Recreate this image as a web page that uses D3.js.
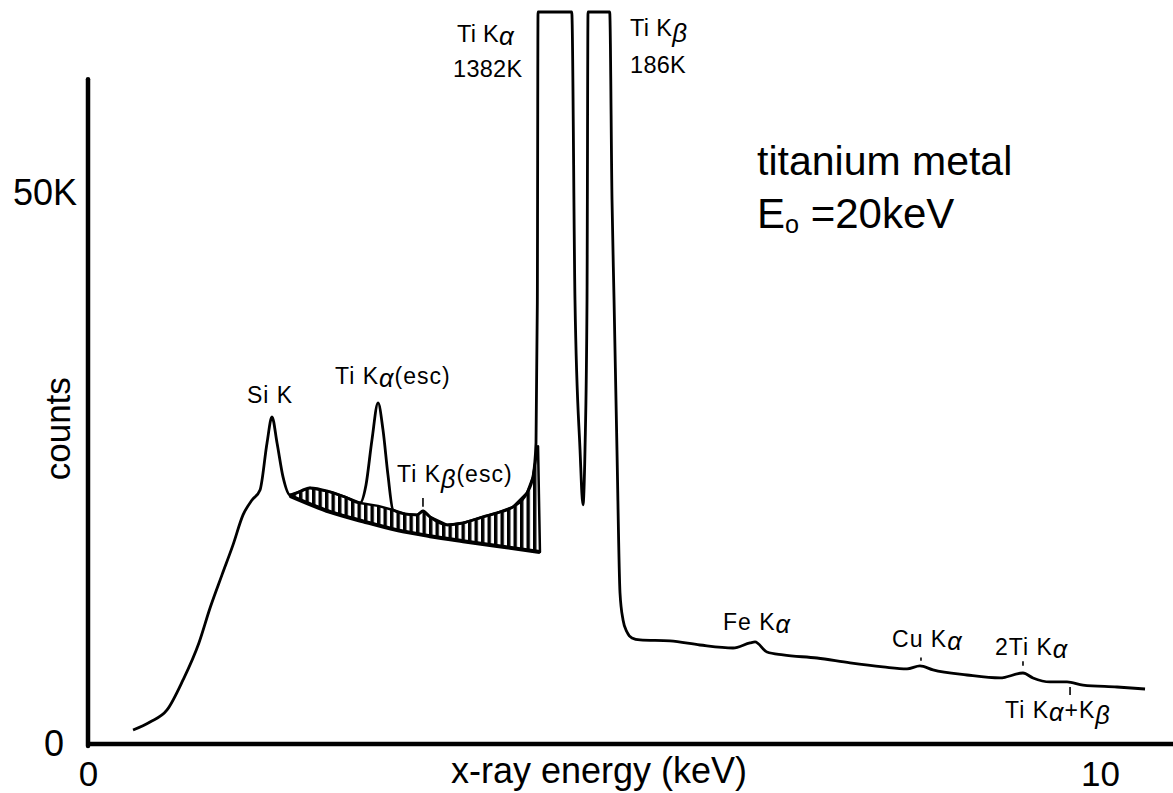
<!DOCTYPE html>
<meta charset="utf-8">
<style>
body { margin: 0; background: #fff; }
text { font-family: "Liberation Sans", Arial, Helvetica, sans-serif; fill: #000; }
</style>

<svg width="1173" height="793"></svg>

<script src="https://d3js.org/d3.v7.min.js"></script>
<script>

// spectrum: energy (keV) and counts (thousands)
var energy = [0.445, 0.613, 0.781, 0.939, 1.096, 1.206, 1.324, 1.433, 1.532, 1.621, 1.700, 1.769, 1.818, 1.868, 1.927, 1.996,
  2.194, 2.391, 2.540, 2.688, 2.747, 2.806, 2.866, 2.915, 2.964, 3.014, 3.132, 3.251, 3.310, 3.379, 3.547, 3.706, 3.903,
  4.042, 4.200, 4.338, 4.397, 4.427, 4.440, 4.447, 4.600, 4.780, 4.812, 4.862, 4.891, 4.911, 4.931, 4.941, 5.030, 5.155,
  5.178, 5.198, 5.227, 5.257, 5.287, 5.326, 5.375, 5.455, 5.751, 6.047, 6.374, 6.542, 6.591, 6.709, 6.868, 7.204, 7.530,
  7.856, 8.093, 8.221, 8.350, 8.686, 9.012, 9.239, 9.338, 9.506, 9.674, 9.832, 10.168, 10.445];
var counts = [1.27, 2.00, 3.09, 5.81, 9.17, 12.34, 15.34, 18.06, 20.78, 22.14, 23.05, 27.31, 29.67, 27.31, 24.23, 22.59,
  23.23, 22.87, 22.41, 21.87, 23.50, 27.59, 30.94, 28.49, 24.41, 21.23, 20.87, 20.78, 21.14, 20.60, 19.87, 20.05, 20.60,
  20.96, 21.51, 22.78, 24.23, 27.31, 40.0, 200, 1382, 200, 40.29, 26.68, 21.69, 26.68, 40.29, 100, 186, 100,
  49.36, 40.29, 26.68, 13.70, 11.25, 10.16, 9.62, 9.44, 9.35, 8.98, 8.71, 9.17, 9.26, 8.35, 8.08, 7.80, 7.35,
  6.99, 6.81, 7.08, 6.72, 6.26, 5.99, 6.44, 5.99, 5.63, 5.63, 5.35, 5.17, 4.99];

// continuum under the escape peaks (top of the hatched band)
var contEnergy = [1.996, 2.194, 2.391, 2.540, 2.688, 2.866, 3.014, 3.132, 3.251, 3.310, 3.379, 3.547, 3.706, 3.903,
  4.042, 4.200, 4.338, 4.397, 4.427, 4.447];
var contCounts = [22.59, 23.23, 22.87, 22.41, 21.87, 21.60, 21.23, 20.87, 20.78, 21.14, 20.60, 19.87, 20.05, 20.60,
  20.96, 21.51, 22.78, 24.23, 26.0, 27.0];

// fitted background (bottom of the hatched band)
var fitEnergy = [1.996, 2.391, 2.717, 3.053, 3.379, 3.706, 4.042, 4.466];
var fitCounts = [22.5, 21.05, 20.2, 19.4, 18.85, 18.4, 17.97, 17.42];

var xTicks = [0, 10];
var yTicks = [0, 50];

// peak labels: text, energy, counts at baseline-left
var labelText = ["Si K", "Ti K\u03b1(esc)", "Ti K\u03b2(esc)", "Ti K\u03b1", "1382K", "Ti K\u03b2", "186K",
  "Fe K\u03b1", "Cu K\u03b1", "2Ti K\u03b1", "Ti K\u03b1+K\u03b2"];
var labelEnergy = [1.571, 2.441, 3.053, 3.646, 3.607, 5.356, 5.356, 6.275, 7.945, 8.962, 9.061];
var labelCounts = [30.94, 32.67, 23.77, 63.70, 60.53, 64.25, 60.89, 10.34, 8.80, 8.08, 2.36];

// little marker lines under some labels: energy, from, to (counts)
var markEnergy = [3.310, 8.231, 9.239, 9.704];
var markFrom = [22.32, 7.85, 7.50, 5.17];
var markTo = [21.51, 7.55, 7.10, 4.45];

var svg = d3.select("svg"),
    width = +svg.attr("width"),
    height = +svg.attr("height");

var x = d3.scaleLinear().domain([0, 10]).range([88, 1100]);
var y = d3.scaleLinear().domain([0, 66.4]).range([744, 12]).clamp(true);

// hatch pattern
var defs = svg.append("defs");
defs.append("pattern")
    .attr("id", "hatch")
    .attr("patternUnits", "userSpaceOnUse")
    .attr("width", 6.5)
    .attr("height", 20)
  .append("rect")
    .attr("width", 3.4)
    .attr("height", 20)
    .attr("fill", "#000");

var line = d3.line()
    .x(function(d) { return x(d[0]); })
    .y(function(d) { return y(d[1]); });

var smooth = d3.line()
    .x(function(d) { return x(d[0]); })
    .y(function(d) { return y(d[1]); })
    .curve(d3.curveMonotoneX);

// hatched band between continuum and fitted background
var band = d3.zip(contEnergy, contCounts).concat(d3.zip(fitEnergy, fitCounts).reverse());
svg.append("path")
    .attr("d", line(band) + "Z")
    .attr("fill", "url(#hatch)")
    .attr("stroke", "#000")
    .attr("stroke-width", 2.5)
    .attr("stroke-linejoin", "round");

svg.append("path")
    .attr("d", smooth(d3.zip(fitEnergy, fitCounts)))
    .attr("fill", "none")
    .attr("stroke", "#000")
    .attr("stroke-width", 4);

// spectrum
svg.append("path")
    .attr("d", smooth(d3.zip(energy, counts)))
    .attr("fill", "none")
    .attr("stroke", "#000")
    .attr("stroke-width", 2.8)
    .attr("stroke-linejoin", "round");

// axes
svg.append("line")
    .attr("x1", x(0)).attr("x2", x(0))
    .attr("y1", y(0) + 2).attr("y2", y(60.3))
    .attr("stroke", "#000").attr("stroke-width", 4.5).attr("stroke-linecap", "round");
svg.append("line")
    .attr("x1", x(0) - 2).attr("x2", width)
    .attr("y1", y(0)).attr("y2", y(0))
    .attr("stroke", "#000").attr("stroke-width", 4.5);

var gx = svg.append("g")
    .attr("transform", "translate(0," + y(0) + ")")
    .call(d3.axisBottom(x).tickValues(xTicks).tickSize(0).tickPadding(17).tickFormat(d3.format("d")));
gx.select(".domain").remove();
gx.selectAll("text").attr("font-size", 35).style("font-family", "Liberation Sans, Arial, sans-serif");

var gy = svg.append("g")
    .attr("transform", "translate(" + x(0) + ",0)")
    .call(d3.axisLeft(y).tickValues(yTicks).tickSize(0).tickFormat(function(d) { return d ? d + "K" : "0"; }));
gy.select(".domain").remove();
gy.selectAll("text")
    .attr("font-size", 36)
    .attr("x", function(d) { return d ? -11 : -24; })
    .style("font-family", "Liberation Sans, Arial, sans-serif");

svg.append("text")
    .attr("transform", "translate(70," + y(28.6) + ") rotate(-90)")
    .attr("text-anchor", "middle")
    .attr("font-size", 35)
    .text("counts");

svg.append("text")
    .attr("x", x(5.05))
    .attr("y", 783)
    .attr("text-anchor", "middle")
    .attr("font-size", 36)
    .text("x-ray energy (keV)");

// text with lowered greek letters / subscript o
function richText(sel, str, size) {
  var shift = 0;
  str.split(/([\u03b1\u03b2\u2092])/).forEach(function(p) {
    if (!p) return;
    var target = 0, fs = size;
    if (p === "\u03b1") target = size * 0.12;
    if (p === "\u03b2") target = size * 0.28;
    if (p === "\u2092") { target = size * 0.12; fs = size * 0.6; p = "o"; }
    var t = sel.append("tspan").text(p).attr("dy", (target - shift)).attr("font-size", fs);
    if (p === "\u03b1" || p === "\u03b2") t.style("font-style", "italic").attr("font-size", size * 1.1);
    shift = target;
  });
}

svg.selectAll("text.peak")
    .data(labelText)
    .enter().append("text")
    .attr("class", "peak")
    .attr("x", function(d, i) { return x(labelEnergy[i]); })
    .attr("y", function(d, i) { return y(labelCounts[i]); })
    .attr("letter-spacing", function(d, i) { return (i >= 3 && i <= 6) ? 0.3 : 1; })
    .each(function(d, i) {
      var size = (i >= 3 && i <= 6) ? 23.5 : 23;
      d3.select(this).attr("font-size", size);
      richText(d3.select(this), d, size);
    });

svg.selectAll("line.mark")
    .data(markEnergy)
    .enter().append("line")
    .attr("class", "mark")
    .attr("x1", function(d) { return x(d); })
    .attr("x2", function(d) { return x(d); })
    .attr("y1", function(d, i) { return y(markFrom[i]); })
    .attr("y2", function(d, i) { return y(markTo[i]); })
    .attr("stroke", "#000")
    .attr("stroke-width", 1.6);

// sample note
var note = svg.append("g");
note.append("text")
    .attr("x", x(6.611)).attr("y", y(51.63))
    .attr("font-size", 41)
    .text("titanium metal");
richText(note.append("text").attr("x", x(6.611)).attr("y", y(46.82)).attr("font-size", 42), "E\u2092 =20keV", 42);

</script>
